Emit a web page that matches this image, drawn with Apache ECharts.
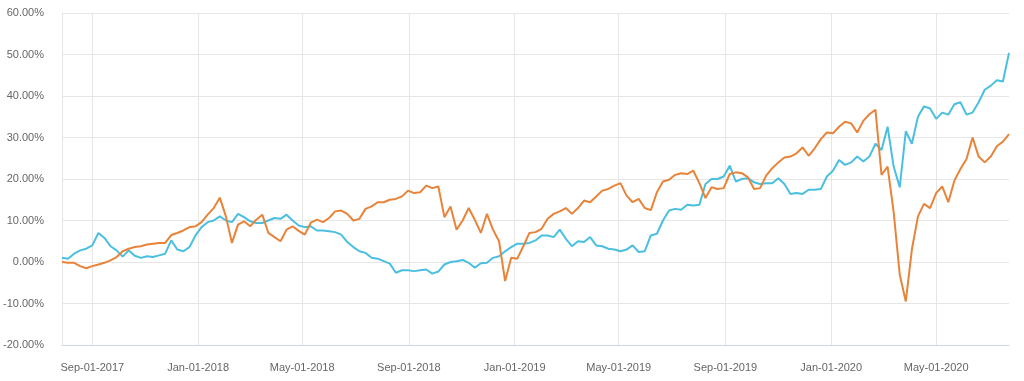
<!DOCTYPE html>
<html><head><meta charset="utf-8">
<script src="https://cdn.jsdelivr.net/npm/echarts@6/dist/echarts.min.js"></script>
<style>html,body{margin:0;padding:0;background:#fff}#c{width:1024px;height:381px}</style>
</head><body><div id="c"></div>
<script>
const startDate = '2017-07-28';
const stepDays = 7;
const tickDates = ['2017-09-01','2018-01-01','2018-05-01','2018-09-01','2019-01-01','2019-05-01','2019-09-01','2020-01-01','2020-05-01'];
const yMin = -20, yMax = 60, yStep = 10;

const cyanValues = [
1.0,0.8,2.0,2.8,3.2,4.0,7.0,5.8,3.8,2.8,
1.3,2.8,1.5,1.0,1.4,1.2,1.6,2.0,5.2,3.0,
2.6,3.6,6.4,8.4,9.6,10.0,11.0,10.0,9.6,11.6,
10.8,9.8,9.4,9.4,10.0,10.6,10.4,11.4,10.0,8.8,
8.4,8.6,7.6,7.6,7.4,7.2,6.6,4.8,3.6,2.6,
2.2,1.0,0.8,0.2,-0.4,-2.6,-2.0,-2.0,-2.2,-2.0,
-1.8,-2.8,-2.3,-0.6,0.0,0.2,0.5,-0.2,-1.4,-0.3,
-0.2,1.0,1.4,2.6,3.6,4.4,4.4,4.6,5.2,6.4,
6.4,6.0,7.8,5.6,3.8,5.0,4.8,6.0,4.0,3.8,
3.2,3.0,2.6,3.0,4.0,2.4,2.6,6.4,6.8,10.0,
12.4,12.8,12.6,13.8,13.6,13.8,18.8,20.0,20.0,20.6,
23.2,19.4,20.0,20.2,19.2,18.8,19.0,19.0,20.2,18.8,
16.4,16.6,16.4,17.4,17.4,17.6,20.6,22.0,24.6,23.4,
24.0,25.4,24.2,25.4,28.5,27.0,32.6,23.0,18.0,31.5,
28.5,35.0,37.5,37.0,34.5,36.0,35.5,38.0,38.5,35.5,
36.0,38.5,41.5,42.5,43.8,43.5,50.4
];
const orangeValues = [
0.0,-0.2,-0.2,-1.0,-1.5,-1.0,-0.6,-0.2,0.4,1.2,
2.6,3.2,3.6,3.8,4.2,4.4,4.6,4.6,6.5,7.0,
7.6,8.4,8.6,9.6,11.4,13.0,15.5,11.0,4.6,9.0,
9.8,8.6,10.2,11.4,7.0,6.0,5.0,7.8,8.6,7.5,
6.6,9.5,10.2,9.6,10.6,12.2,12.4,11.6,10.0,10.4,
12.8,13.4,14.4,14.4,15.0,15.2,15.8,17.2,16.6,16.8,
18.4,17.8,18.2,10.8,13.4,7.8,10.0,13.0,10.2,7.0,
11.6,7.8,5.0,-4.6,1.0,0.8,3.8,7.0,7.2,8.0,
10.4,11.6,12.2,13.0,11.6,13.0,14.8,14.4,15.8,17.2,
17.6,18.4,19.0,16.0,14.4,15.2,13.0,12.5,16.8,19.4,
19.8,21.0,21.4,21.2,22.0,19.0,15.4,18.0,17.6,17.8,
21.2,21.6,21.4,20.4,17.6,17.8,20.8,22.6,24.0,25.2,
25.4,26.2,27.6,25.6,27.4,29.6,31.2,31.0,32.6,33.8,
33.4,31.2,34.0,35.6,36.7,21.0,23.0,12.0,-3.0,-9.5,
3.0,11.0,14.0,13.0,16.6,18.2,14.4,19.6,22.4,24.8,
30.0,25.4,24.0,25.4,27.9,29.0,30.8
];

const MONTHS = ['Jan','Feb','Mar','Apr','May','Jun','Jul','Aug','Sep','Oct','Nov','Dec'];
function ts(s){ const p = s.split('-').map(Number); return Date.UTC(p[0], p[1]-1, p[2]); }
function fmt(v){ const d = new Date(v); return MONTHS[d.getUTCMonth()] + '-' + String(d.getUTCDate()).padStart(2,'0') + '-' + d.getUTCFullYear(); }
const t0 = ts(startDate);
const dates = cyanValues.map((_, i) => t0 + i * stepDays * 86400000);
const tickVals = tickDates.map(ts);

const chart = echarts.init(document.getElementById('c'), null, {renderer:'canvas'});
chart.setOption({
  animation: false,
  textStyle: {fontFamily: 'Liberation Sans, Arial, sans-serif'},
  grid: {left: 61, right: 15, top: 13, bottom: 36},
  xAxis: {
    type: 'value',
    min: dates[0], max: dates[dates.length - 1],
    axisLine: {show: true, onZero: false, lineStyle: {color: '#ccd6eb', width: 1}},
    axisTick: {show: false, customValues: tickVals},
    axisLabel: {customValues: tickVals, formatter: fmt, color: '#666', fontSize: 11, margin: 17, hideOverlap: false, showMinLabel: true, showMaxLabel: true},
    splitLine: {show: true, lineStyle: {color: '#e6e6e6', width: 1}}
  },
  yAxis: {
    type: 'value', min: yMin, max: yMax, interval: yStep,
    axisLine: {show: true, onZero: false, lineStyle: {color: '#e6e6e6'}},
    axisTick: {show: false},
    axisLabel: {formatter: v => v.toFixed(2) + '%', color: '#666', fontSize: 11, margin: 18},
    splitLine: {show: true, lineStyle: {color: '#e6e6e6', width: 1}}
  },
  series: [
    {type: 'line', name: 'A', data: dates.map((d, i) => [d, cyanValues[i]]), showSymbol: false, symbol: 'none',
     lineStyle: {color: '#4bbfe0', width: 2}, itemStyle: {color: '#4bbfe0'}},
    {type: 'line', name: 'B', data: dates.map((d, i) => [d, orangeValues[i]]), showSymbol: false, symbol: 'none',
     lineStyle: {color: '#e8833a', width: 2}, itemStyle: {color: '#e8833a'}}
  ]
});
</script></body></html>
